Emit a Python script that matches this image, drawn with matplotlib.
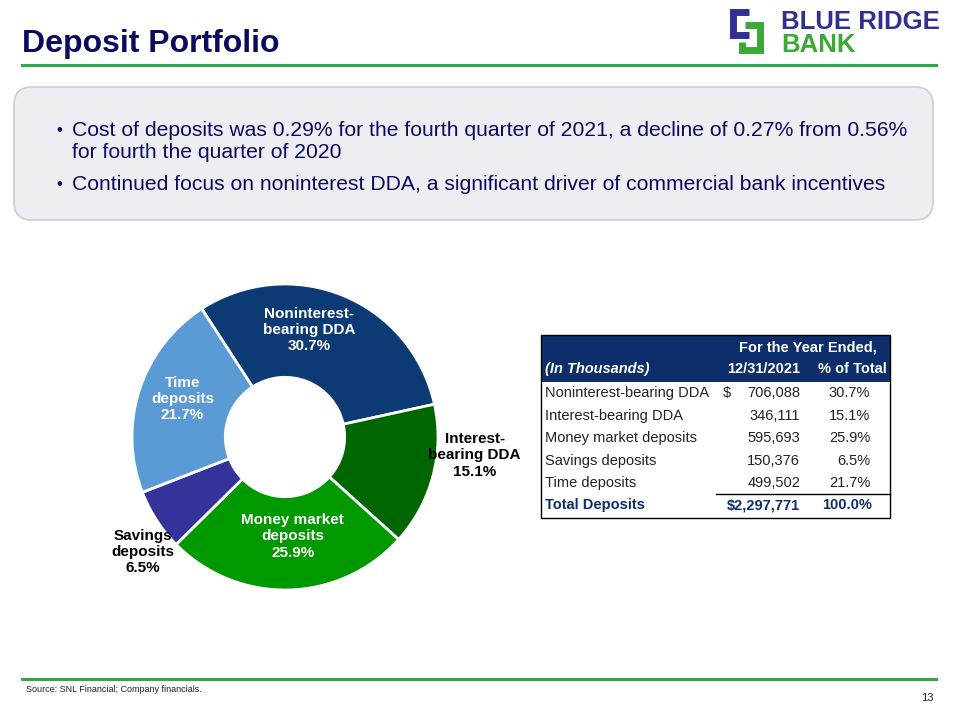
import matplotlib
matplotlib.use("Agg")
import matplotlib.pyplot as plt
from matplotlib.patches import FancyBboxPatch, Rectangle

plt.rcParams['font.family'] = ['Liberation Sans', 'DejaVu Sans']

# data
segments = ['Noninterest-\nbearing DDA', 'Interest-\nbearing DDA', 'Money market\ndeposits',
            'Savings\ndeposits', 'Time\ndeposits']
shares = [30.7, 15.1, 25.9, 6.5, 21.7]
seg_colors = ['#0B3A75', '#006600', '#009900', '#333399', '#5B9BD5']

row_names = ['Noninterest-bearing DDA', 'Interest-bearing DDA', 'Money market deposits',
             'Savings deposits', 'Time deposits']
row_amounts = ['706,088', '346,111', '595,693', '150,376', '499,502']
row_pcts = ['30.7%', '15.1%', '25.9%', '6.5%', '21.7%']
total_amount = '$2,297,771'
total_pct = '100.0%'

bullets = ['Cost of deposits was 0.29% for the fourth quarter of 2021, a decline of 0.27% from 0.56%\nfor fourth the quarter of 2020',
           'Continued focus on noninterest DDA, a significant driver of commercial bank incentives']

navy = '#0A0A5E'
green_line = '#2EA84A'
tbl_navy = '#0E2D6B'

fig = plt.figure(figsize=(9.6, 7.2), dpi=100)
ax = fig.add_axes([0, 0, 1, 1])
ax.set_xlim(0, 960)
ax.set_ylim(720, 0)
ax.axis('off')

# title and rules
ax.text(22, 44, 'Deposit Portfolio', fontsize=23, fontweight='bold', color=navy, va='center')
ax.plot([22, 936], [65, 65], color=green_line, lw=2.2)
ax.plot([22, 936], [679, 679], color=green_line, lw=2.2)
ax.text(26, 689, 'Source: SNL Financial; Company financials.', fontsize=6.5, color='#222222', va='center')
ax.text(934, 698, '13', fontsize=8, color='#222222', va='center', ha='right')

# logo
ax.plot([749, 733, 733, 749], [12, 12, 35, 35], color='#2E3192', lw=5, solid_capstyle='butt', solid_joinstyle='miter')
ax.plot([745, 760, 760, 742, 742], [25, 25, 50, 50, 42], color='#3AAA35', lw=5, solid_capstyle='butt', solid_joinstyle='miter')
ax.text(781, 22, 'BLUE RIDGE', fontsize=18.5, fontweight='bold', color='#2E3192', va='center')
ax.text(781, 45, 'BANK', fontsize=18.5, fontweight='bold', color='#3AAA35', va='center')

# bullet box
box = FancyBboxPatch((14, 87), 919, 133, boxstyle='round,pad=0,rounding_size=18',
                     fc='#EEEEF2', ec='#CDCDD6', lw=1.2)
ax.add_patch(box)
ax.text(56, 131, '•', fontsize=12, color=navy, va='center')
ax.text(72, 142, bullets[0], fontsize=15.2, color=navy, va='center', linespacing=1.2)
ax.text(56, 184, '•', fontsize=12, color=navy, va='center')
ax.text(72, 184, bullets[1], fontsize=15.2, color=navy, va='center')

# donut chart
pax = fig.add_axes([132 / 960, 1 - 590 / 720, 306 / 960, 306 / 720])
wedges, _ = pax.pie(shares, colors=seg_colors, startangle=123, counterclock=False,
                    wedgeprops=dict(width=0.61, edgecolor='white', linewidth=2))
pax.set_xlim(-1, 1)
pax.set_ylim(-1, 1)
pax.set_aspect('equal')

inside = {0: (0.16, 0.70), 2: (0.05, -0.65), 4: (-0.67, 0.25)}
for i, (x, y) in inside.items():
    pax.text(x, y, f'{segments[i]}\n{shares[i]}%', ha='center', va='center', color='white',
             fontsize=11, fontweight='bold', linespacing=1.2)
pax.text(1.24, -0.12, f'{segments[1]}\n{shares[1]}%', ha='center', va='center', color='black',
         fontsize=11, fontweight='bold', linespacing=1.2)
pax.text(-0.93, -0.75, f'{segments[3]}\n{shares[3]}%', ha='center', va='center', color='black',
         fontsize=11, fontweight='bold', linespacing=1.2)

# table
tx0, tx1 = 541, 890
ty0 = 335
ax.add_patch(Rectangle((tx0, ty0), tx1 - tx0, 47, fc=tbl_navy, ec='none'))
ax.add_patch(Rectangle((tx0, ty0), tx1 - tx0, 183, fc='none', ec='black', lw=1))
tsz = 10.5
ax.text(808, 347, 'For the Year Ended,', fontsize=tsz, fontweight='bold', color='white', ha='center', va='center')
ax.text(545, 369, '(In Thousands)', fontsize=tsz, fontweight='bold', style='italic', color='white', va='center')
ax.text(800, 369, '12/31/2021', fontsize=tsz, fontweight='bold', color='white', ha='right', va='center')
ax.text(887, 369, '% of Total', fontsize=tsz, fontweight='bold', color='white', ha='right', va='center')
for i, (name, amt, pct) in enumerate(zip(row_names, row_amounts, row_pcts)):
    y = 393 + i * 22.6
    ax.text(545, y, name, fontsize=tsz, color='#222222', va='center')
    if i == 0:
        ax.text(723, y, '$', fontsize=tsz, color='#222222', va='center')
    ax.text(800, y, amt, fontsize=tsz, color='#222222', ha='right', va='center')
    ax.text(870, y, pct, fontsize=tsz, color='#222222', ha='right', va='center')
ax.plot([716, 890], [494, 494], color='black', lw=1)
ax.text(545, 505, 'Total Deposits', fontsize=tsz, fontweight='bold', color=tbl_navy, va='center')
ax.text(800, 505, total_amount, fontsize=tsz, fontweight='bold', color=tbl_navy, ha='right', va='center')
ax.text(872, 505, total_pct, fontsize=tsz, fontweight='bold', color=tbl_navy, ha='right', va='center')

fig.savefig('out.png', dpi=100)
